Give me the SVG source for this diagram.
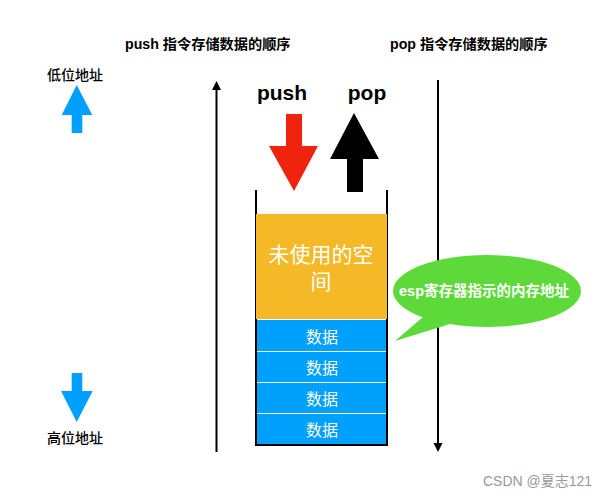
<svg xmlns="http://www.w3.org/2000/svg" width="610" height="499" viewBox="0 0 610 499">
<style>
.t{font-family:"Liberation Sans","Noto Sans CJK SC",sans-serif;fill:#000}
.b{font-weight:bold}
.line{stroke:#000;stroke-width:2;fill:none}
.data{fill:#00a0fd}
.lbl{font-family:"Liberation Sans","Noto Sans CJK SC",sans-serif;fill:#fff;font-size:16px;text-anchor:middle;dominant-baseline:central}
</style>
<rect width="610" height="499" fill="#fff"/>
<text class="t b" x="125" y="49" font-size="14.2">push 指令存储数据的顺序</text>
<text class="t b" x="390" y="49" font-size="14.2">pop 指令存储数据的顺序</text>
<g id="low-label">
<text class="t" x="47" y="80" font-size="14" font-weight="500">低位地址</text>
<polygon points="76.7,85 92.3,115 82.3,115 82.3,133 71.7,133 71.7,115 61.7,115" fill="#00a0ff"/>
</g>
<g id="high-label">
<polygon points="71.7,373 82.3,373 82.3,391 92.7,391 76.7,422 61,391 71.7,391" fill="#00a0ff"/>
<text class="t" x="47" y="443" font-size="14" font-weight="500">高位地址</text>
</g>
<g id="connectors">
<line class="line" x1="216.5" y1="452" x2="216.5" y2="88"/>
<polygon points="216.5,81 212,90 221,90" fill="#000"/>
<line class="line" x1="438" y1="80" x2="438" y2="444"/>
<polygon points="438,452 433.5,443 442.5,443" fill="#000"/>
</g>
<g id="push">
<text class="t b" x="282" y="100" font-size="21" text-anchor="middle">push</text>
<polygon points="286,114 302,114 302,146 318,146 294,191 269,146 286,146" fill="#f0230e"/>
</g>
<g id="pop">
<text class="t b" x="367" y="100" font-size="21" text-anchor="middle">pop</text>
<polygon points="354,113 379,159 363,159 363,192 347,192 347,159 330,159" fill="#000"/>
</g>
<g id="stack">
<line class="line" x1="256" y1="190" x2="256" y2="446"/>
<line class="line" x1="387" y1="190" x2="387" y2="446"/>
<line class="line" x1="255" y1="445" x2="388" y2="445"/>
<rect x="256" y="214" width="131" height="105" fill="#f5b826"/>
<text class="lbl" x="321" y="254" style="font-size:21px">未使用的空</text>
<text class="lbl" x="321" y="281" style="font-size:21px">间</text>
<rect class="data" x="257" y="320" width="129" height="31"/>
<rect class="data" x="257" y="352" width="129" height="30"/>
<rect class="data" x="257" y="383" width="129" height="30"/>
<rect class="data" x="257" y="414" width="129" height="30"/>
<text class="lbl" x="322" y="337">数据</text>
<text class="lbl" x="322" y="368">数据</text>
<text class="lbl" x="322" y="399">数据</text>
<text class="lbl" x="322" y="430">数据</text>
</g>
<g id="bubble">
<path d="M423,317 L395,341 L450,324 Z" fill="#5ed93a"/>
<ellipse cx="487" cy="291" rx="94" ry="36" fill="#5ed93a"/>
<text class="lbl" x="484" y="291" style="font-size:14.5px;font-weight:bold">esp寄存器指示的内存地址</text>
</g>
<text x="483" y="486" font-family="Liberation Sans,Noto Sans CJK SC,sans-serif" font-size="14" fill="#999">CSDN @夏志121</text>
</svg>
